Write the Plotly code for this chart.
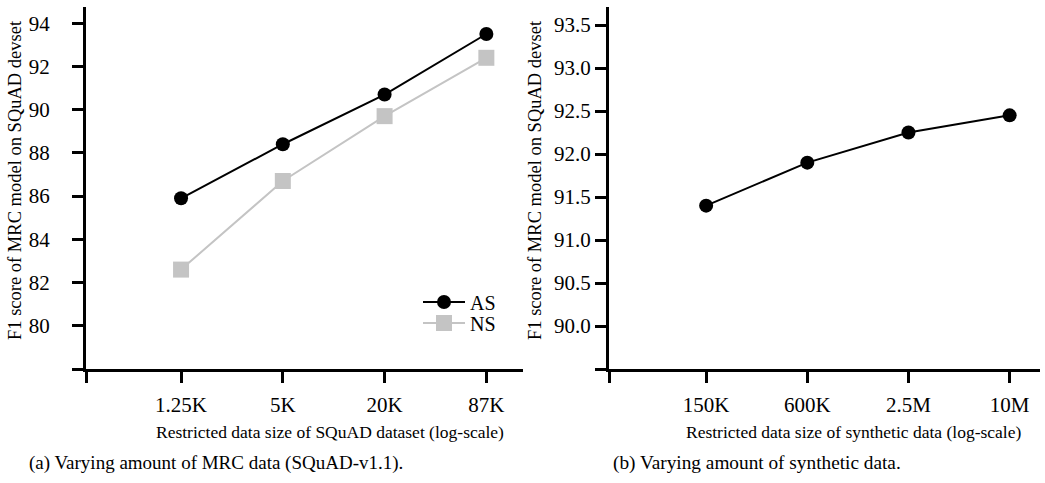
import plotly.graph_objects as go

# Data
squad_sizes = ["1.25K", "5K", "20K", "87K"]
as_scores = [85.9, 88.4, 90.7, 93.5]
ns_scores = [82.6, 86.7, 89.7, 92.4]

synth_sizes = ["150K", "600K", "2.5M", "10M"]
synth_scores = [91.4, 91.9, 92.25, 92.45]

W, H = 1045, 483
FONT = "'Liberation Serif', 'Times New Roman', Times, serif"

pos = [1, 2, 3, 4]

fig = go.Figure()
fig.add_trace(go.Scatter(x=pos, y=as_scores, mode="lines+markers", name="AS",
                         line=dict(color="black", width=2),
                         marker=dict(symbol="circle", size=14, color="black"),
                         xaxis="x", yaxis="y", legend="legend"))
fig.add_trace(go.Scatter(x=pos, y=ns_scores, mode="lines+markers", name="NS",
                         line=dict(color="#c4c4c4", width=2),
                         marker=dict(symbol="square", size=16, color="#c4c4c4"),
                         xaxis="x", yaxis="y", legend="legend2"))
fig.add_trace(go.Scatter(x=pos, y=synth_scores, mode="lines+markers", name="synthetic",
                         showlegend=False,
                         line=dict(color="black", width=2),
                         marker=dict(symbol="circle", size=14, color="black"),
                         xaxis="x2", yaxis="y2"))

def px_x(v):
    return v / W

def px_y(v):
    return 1 - v / H

common = dict(showgrid=False, zeroline=False, showline=True, linecolor="black",
              linewidth=3, ticks="outside", tickwidth=3, ticklen=11, tickcolor="black",
              tickfont=dict(family=FONT, size=21, color="black"), mirror=False)

xl0, xl1 = 0.066, 4.36
yl0, yl1 = 78, 94.75
xr0, xr1 = 0.04, 4.3
yr0, yr1 = 89.5, 93.71

leg_common = dict(xanchor="left", yanchor="middle",
                  font=dict(family=FONT, size=20, color="black"),
                  bgcolor="rgba(0,0,0,0)", itemwidth=42, itemsizing="trace")

fig.update_layout(
    width=W, height=H,
    margin=dict(l=0, r=0, t=0, b=0),
    paper_bgcolor="white", plot_bgcolor="white",
    font=dict(family=FONT, color="black"),
    xaxis=dict(domain=[px_x(86), px_x(523)], range=[xl0, xl1], anchor="y",
               tickmode="array", tickvals=[xl0] + pos, ticktext=[""] + squad_sizes,
               ticklabelstandoff=4, **common),
    yaxis=dict(domain=[px_y(369), px_y(7)], range=[yl0, yl1], anchor="x",
               tickmode="array", tickvals=[78, 80, 82, 84, 86, 88, 90, 92, 94],
               ticktext=["", "80", "82", "84", "86", "88", "90", "92", "94"],
               ticklabelstandoff=18, **common),
    xaxis2=dict(domain=[px_x(609), px_x(1040)], range=[xr0, xr1], anchor="y2",
                tickmode="array", tickvals=[xr0] + pos, ticktext=[""] + synth_sizes,
                ticklabelstandoff=4, **common),
    yaxis2=dict(domain=[px_y(369), px_y(7)], range=[yr0, yr1], anchor="x2",
                tickmode="array",
                tickvals=[89.5, 90.0, 90.5, 91.0, 91.5, 92.0, 92.5, 93.0, 93.5],
                ticktext=["", "90.0", "90.5", "91.0", "91.5", "92.0", "92.5", "93.0", "93.5"],
                ticklabelstandoff=0, **common),
    legend=dict(x=px_x(418), y=px_y(302), **leg_common),
    legend2=dict(x=px_x(418), y=px_y(323), **leg_common),
    showlegend=True,
)

annots = [
    dict(text="Restricted data size of SQuAD dataset (log-scale)", x=px_x(330), y=px_y(432),
         size=17.5),
    dict(text="Restricted data size of synthetic data (log-scale)", x=px_x(853), y=px_y(432),
         size=17.5),
    dict(text="(a) Varying amount of MRC data (SQuAD-v1.1).", x=px_x(216), y=px_y(463),
         size=19),
    dict(text="(b) Varying amount of synthetic data.", x=px_x(757), y=px_y(463),
         size=19.3),
]
for a in annots:
    fig.add_annotation(text=a["text"], x=a["x"], y=a["y"], xref="paper", yref="paper",
                       xanchor="center", yanchor="middle", showarrow=False,
                       font=dict(family=FONT, size=a["size"], color="black"))

for xc in (15, 535):
    fig.add_annotation(text="F1 score of MRC model on SQuAD devset", x=px_x(xc), y=px_y(180),
                       xref="paper", yref="paper", xanchor="center", yanchor="middle",
                       showarrow=False, textangle=-90,
                       font=dict(family=FONT, size=18.5, color="black"))

fig.write_html("out.html", config={"displayModeBar": False},
               post_script="document.body.style.margin='0';document.body.style.padding='0';")
